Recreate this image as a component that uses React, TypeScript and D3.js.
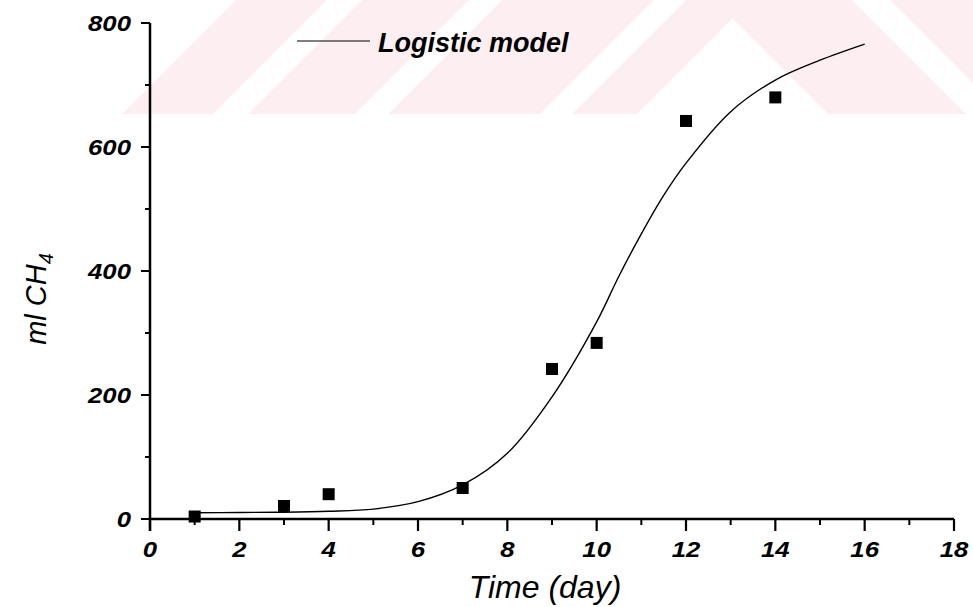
import React from 'react';
import * as d3 from 'd3';

// measured points (day, ml CH4)
const days = [1, 3, 4, 7, 9, 10, 12, 14];
const methane = [4, 21, 40, 50, 242, 284, 642, 680];

// logistic model curve
const modelDays = [1, 2, 3, 4, 5, 6, 7, 8, 9, 10, 10.5, 11, 11.5, 12, 13, 14, 15, 16];
const modelValues = [10, 10.5, 11, 12.5, 16, 28, 55, 106, 197, 318, 392, 460, 522, 574, 657, 708, 740, 766];

const xTicks = [0, 2, 4, 6, 8, 10, 12, 14, 16, 18];
const yTicks = [0, 200, 400, 600, 800];
const legendLabel = 'Logistic model';
const xTitle = 'Time (day)';

const W = 973;
const H = 607;
const FONT = '"Liberation Sans", Arial, sans-serif';

const x = d3.scaleLinear().domain([0, 18]).range([150, 954]);
const y = d3.scaleLinear().domain([0, 800]).range([519, 23]);

// faint pink watermark band behind the top of the plot
const BAND = 114;
const slashBands = [[122, 213], [248, 355], [388, 540], [572, 637]];
const backBands = [[714, 852], [890, 1100]];

const App = () => {
  const line = d3.line<number>()
    .x((d, i) => x(modelDays[i]))
    .y(d => y(d))
    .curve(d3.curveCatmullRom.alpha(0.5));

  const minorX = d3.range(1, 18, 2);
  const minorY = d3.range(100, 800, 200);
  const sq = 12;
  const stretch = 1.12;

  return (
    <svg width={W} height={H} style={{ position: 'absolute', left: 0, top: 0, background: '#fff' }}>
      <defs>
        <clipPath id="wm">
          <rect x={0} y={0} width={W} height={BAND} />
        </clipPath>
      </defs>
      <g clipPath="url(#wm)" fill="#fdeef1">
        {slashBands.map(([a, b], i) => (
          <polygon key={'s' + i} points={`${a},${BAND} ${a + BAND},0 ${b + BAND},0 ${b},${BAND}`} />
        ))}
        {backBands.map(([a, b], i) => (
          <polygon key={'b' + i} points={`${a},0 ${b},0 ${b + BAND},${BAND} ${a + BAND},${BAND}`} />
        ))}
      </g>

      {/* axes */}
      <g stroke="#000" fill="none">
        <line x1={x(0)} x2={x(18)} y1={y(0)} y2={y(0)} strokeWidth={2.5} />
        <line x1={x(0)} x2={x(0)} y1={y(800)} y2={y(0) + 12} strokeWidth={2.5} />
        {xTicks.map(t => (
          <line key={'xt' + t} x1={x(t)} x2={x(t)} y1={y(0)} y2={y(0) + 12} strokeWidth={2.2} />
        ))}
        {minorX.map(t => (
          <line key={'xm' + t} x1={x(t)} x2={x(t)} y1={y(0)} y2={y(0) + 6} strokeWidth={2} />
        ))}
        {yTicks.map(t => (
          <line key={'yt' + t} x1={x(0) - 9} x2={x(0)} y1={y(t)} y2={y(t)} strokeWidth={2} />
        ))}
        {minorY.map(t => (
          <line key={'ym' + t} x1={x(0) - 5} x2={x(0)} y1={y(t)} y2={y(t)} strokeWidth={2} />
        ))}
      </g>

      {/* tick labels */}
      <g fontFamily={FONT} fontSize={23} fontWeight="bold" fontStyle="italic" fill="#000">
        {xTicks.map(t => (
          <text key={'xl' + t} transform={`translate(${x(t)},557) scale(${stretch},1)`} textAnchor="middle">{t}</text>
        ))}
        {yTicks.map(t => (
          <text key={'yl' + t} transform={`translate(131,${y(t)}) scale(${stretch},1)`} dy="0.35em" textAnchor="end">{t}</text>
        ))}
      </g>

      {/* model curve */}
      <path d={line(modelValues) || ''} fill="none" stroke="#000" strokeWidth={1.4} />

      {/* data squares */}
      {days.map((d, i) => (
        <rect key={'p' + i} x={x(d) - sq / 2} y={y(methane[i]) - sq / 2} width={sq} height={sq} fill="#000" />
      ))}

      {/* legend */}
      <line x1={297} x2={370} y1={41} y2={41} stroke="#000" strokeWidth={1.2} />
      <text x={378} y={52} fontFamily={FONT} fontSize={27} fontWeight="bold" fontStyle="italic" fill="#000">
        {legendLabel}
      </text>

      {/* axis titles */}
      <text x={545} y={598} textAnchor="middle" fontFamily={FONT} fontSize={32} fontStyle="italic" fill="#000">
        {xTitle}
      </text>
      <text transform={`translate(46, 299) rotate(-90)`} textAnchor="middle" fontFamily={FONT} fontSize={29} fontStyle="italic" fill="#000">
        ml CH<tspan fontSize={20} dy={7}>4</tspan>
      </text>
    </svg>
  );
};

export default App;
